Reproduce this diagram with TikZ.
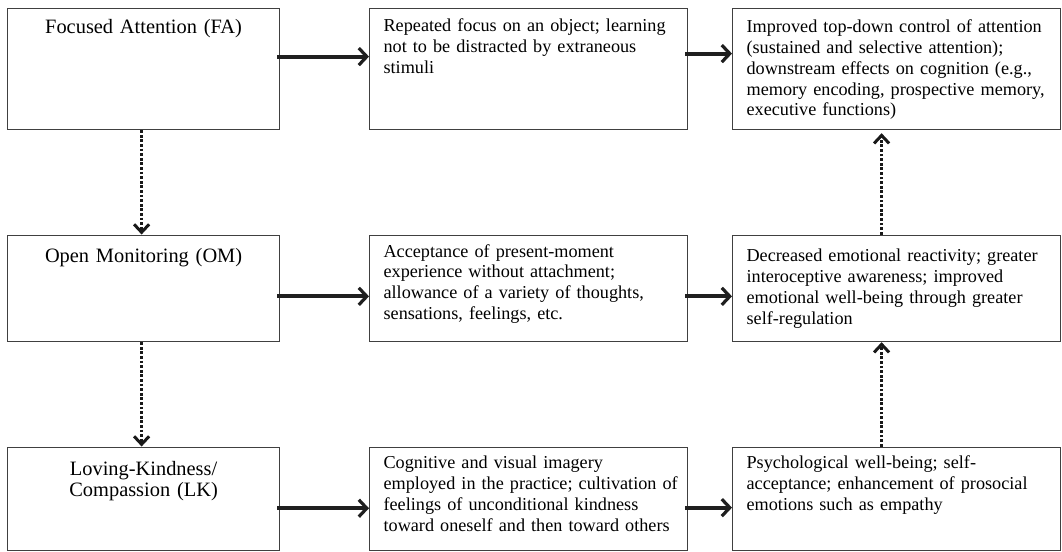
\documentclass[tikz,border=0pt]{standalone}
\usepackage{fontspec}
\setmainfont{Liberation Serif}
\usetikzlibrary{arrows.meta}

\newcommand{\headfont}{\fontsize{10.2}{10.5}\selectfont}
\newcommand{\cellfont}{\fontsize{9.1}{10.4}\selectfont}

\tikzset{
	cell/.style={draw=black!75, line width=.6pt, anchor=north west, inner xsep=7pt, inner ysep=0pt, align=left, font=\cellfont},
	head/.style={cell, align=center, text width=122pt, font=\headfont},
	mid/.style={cell, text width=145pt},
	res/.style={cell, text width=150pt},
	flow/.style={line width=2pt, black!88, -{Straight Barb[length=4pt,width=8.5pt,line width=1.6pt]}},
	link/.style={line width=1.7pt, black!90, dash pattern=on 1.4pt off .9pt, -{Straight Barb[length=4pt,width=7.5pt,line width=1.5pt]}}
}

\begin{document}
\begin{tikzpicture}[x=.5pt,y=-.5pt]
	\useasboundingbox (0,0) rectangle (1062,552);
	% kinds of practice
	\node[head, text height=12.5pt, text depth=48pt] (FA) at (7,8) {Focused Attention (FA)};
	\node[head, text height=13.5pt, text depth=39.75pt] (OM) at (7,234.5) {Open Monitoring (OM)};
	\node[head, text height=14pt, text depth=37.75pt] (LK) at (7,446.5) {Loving-Kindness/\\Compassion (LK)};
	% what is trained
	\node[mid, text height=11.5pt, text depth=49pt] (FAm) at (369,8) {Repeated focus on an object; learning\\not to be distracted by extraneous\\stimuli};
	\node[mid, text height=11pt, text depth=42.25pt] (OMm) at (369,234.5) {Acceptance of present-moment\\experience without attachment;\\allowance of a variety of thoughts,\\sensations, feelings, etc.};
	\node[mid, text height=10.8pt, text depth=40.95pt] (LKm) at (369,446.5) {Cognitive and visual imagery\\\mbox{employed in the practice; cultivation of}\\feelings of unconditional kindness\\\mbox{toward oneself and then toward others}};
	% outcomes
	\node[res, text height=12pt, text depth=48.5pt] (FAo) at (732,8) {\mbox{Improved top-down control of attention}\\(sustained and selective attention);\\\mbox{downstream effects on cognition (e.g.,}\\\mbox{memory encoding, prospective memory,}\\executive functions)};
	\node[res, text height=13.3pt, text depth=39.95pt] (OMo) at (732,234.5) {\mbox{Decreased emotional reactivity; greater}\\interoceptive awareness; improved\\\mbox{emotional well-being through greater}\\self-regulation};
	\node[res, text height=10.7pt, text depth=41.05pt] (LKo) at (732,446.5) {Psychological well-being; self-\\\mbox{acceptance; enhancement of prosocial}\\emotions such as empathy};

	\draw[flow] ([xshift=-1.5pt,yshift=6.25pt]FA.east) -- ([yshift=6.25pt]FAm.west);
	\draw[flow] ([xshift=-1.5pt,yshift=7.75pt]FAm.east) -- ([yshift=7.75pt]FAo.west);
	\draw[flow] ([xshift=-1.5pt,yshift=-4pt]OM.east) -- ([yshift=-4pt]OMm.west);
	\draw[flow] ([xshift=-1.5pt,yshift=-4pt]OMm.east) -- ([yshift=-4pt]OMo.west);
	\draw[flow] ([xshift=-1.5pt,yshift=-4.7pt]LK.east) -- ([yshift=-4.7pt]LKm.west);
	\draw[flow] ([xshift=-1.5pt,yshift=-4.4pt]LKm.east) -- ([yshift=-4.4pt]LKo.west);

	\draw[link] ([xshift=-1pt]FA.south) -- ([xshift=-1pt]OM.north);
	\draw[link] ([xshift=-1pt]OM.south) -- ([xshift=-1pt]LK.north);
	\draw[link] ([xshift=-7.5pt]OMo.north) -- ([xshift=-7.5pt,yshift=-1.5pt]FAo.south);
	\draw[link] ([xshift=-7.5pt]LKo.north) -- ([xshift=-7.5pt]OMo.south);
\end{tikzpicture}
\end{document}
